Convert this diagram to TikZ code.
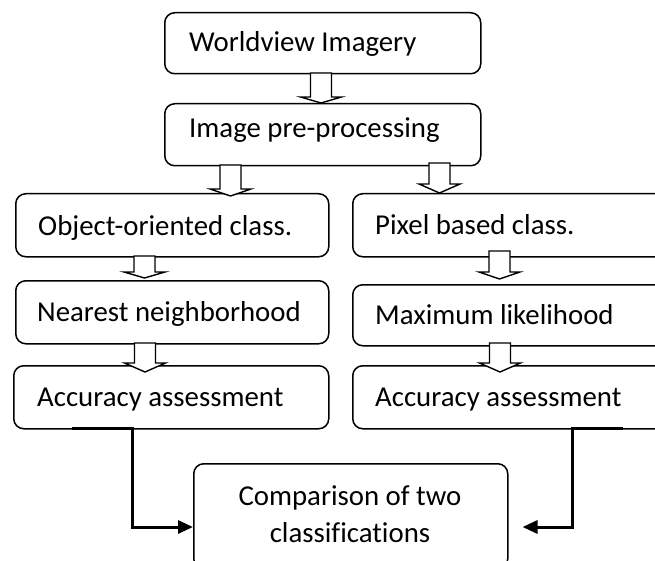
\documentclass[tikz,border=0pt]{standalone}
\usepackage{fontspec}
\setmainfont{Carlito}[Ligatures={NoCommon}]
\usetikzlibrary{arrows.meta,calc}

% hollow block arrow pointing down: [head length]{shaft top}{tip}
\newcommand\blockarrow[3][7]{%
  \draw[blockarrow] let \p1=(#2), \p2=(#3) in
    (\x1-10.5pt,\y1) -- (\x1+10.5pt,\y1) -- (\x1+10.5pt,\y2+#1pt)
    -- (\x1+20.5pt,\y2+#1pt) -- (\x1,\y2) -- (\x1-20.5pt,\y2+#1pt)
    -- (\x1-10.5pt,\y2+#1pt) -- cycle;}

\begin{document}
\begin{tikzpicture}[x=1pt,y=-1pt,
  box/.style={draw, line width=1.5pt, rounded corners=10pt, inner sep=0pt,
    anchor=north west},
  lbl/.style={anchor=base west, inner sep=0pt,
    font=\fontsize{28.8pt}{34pt}\selectfont},
  blockarrow/.style={draw, fill=white, line width=1.4pt, line join=miter},
  link/.style={line width=3pt, line join=miter,
    -{Triangle[length=15pt,width=13pt]}},
]
\useasboundingbox (0,0) rectangle (655,561);

% boxes
\node[box, minimum width=316pt, minimum height=61pt]  (img)  at (164,12)  {};
\node[box, minimum width=316pt, minimum height=62pt]  (pre)  at (164,103) {};
\node[box, minimum width=313pt, minimum height=63pt]  (obj)  at (15,193)  {};
\node[box, minimum width=320pt, minimum height=63pt]  (pix)  at (352,193) {};
\node[box, minimum width=313pt, minimum height=63pt]  (nn)   at (15,280)  {};
\node[box, minimum width=320pt, minimum height=61pt]  (ml)   at (352,284) {};
\node[box, minimum width=315pt, minimum height=63pt]  (accL) at (13,365)  {};
\node[box, minimum width=320pt, minimum height=63pt]  (accR) at (352,365) {};
\node[box, minimum width=314pt, minimum height=105pt] (cmp)  at (193,463) {};

% labels
\node[lbl] (tImg)  at (189,52)  {Worldview Imagery};
\node[lbl] (tPre)  at (189,138) {Image pre-processing};
\node[lbl] (tObj)  at (38,235)  {Object-oriented class.};
\node[lbl] (tPix)  at (375,234) {Pixel based class.};
\node[lbl] (tNn)   at (37,321)  {Nearest neighborhood};
\node[lbl] (tMl)   at (375,324) {Maximum likelihood};
\node[lbl] (tAccL) at (37,406)  {Accuracy assessment};
\node[lbl] (tAccR) at (375,406) {Accuracy assessment};
\node[lbl, anchor=base] (tCmp1) at (350,505) {Comparison of two};
\node[lbl, anchor=base] (tCmp2) at (350,542) {classifications};

% hollow arrows between the steps
\coordinate (a1s) at (321,73);    \coordinate (a1e) at (321,103);
\coordinate (a2s) at (230.5,165); \coordinate (a2e) at (230.5,196);
\coordinate (a3s) at (439.5,163); \coordinate (a3e) at (439.5,193);
\coordinate (a4s) at (144.5,256); \coordinate (a4e) at (144.5,278);
\coordinate (a5s) at (499.5,251); \coordinate (a5e) at (499.5,279);
\coordinate (a6s) at (145,343);   \coordinate (a6e) at (145,372);
\coordinate (a7s) at (500,343);   \coordinate (a7e) at (500,372);
\blockarrow[6]{a1s}{a1e}
\blockarrow[7]{a2s}{a2e}
\blockarrow[9]{a3s}{a3e}
\blockarrow[6]{a4s}{a4e}
\blockarrow[7]{a5s}{a5e}
\blockarrow[9]{a6s}{a6e}
\blockarrow[9]{a7s}{a7e}

% links to the comparison box
\coordinate (sL) at (72,428);  \coordinate (jL) at (132,527);
\coordinate (sR) at (623,428); \coordinate (jR) at (572,527);
\draw[link] (sL) -| (jL) -- (jL -| cmp.west);
\draw[link] (sR) -| (jR) -- ($(jR -| cmp.east)+(14,0)$);
\end{tikzpicture}
\end{document}
